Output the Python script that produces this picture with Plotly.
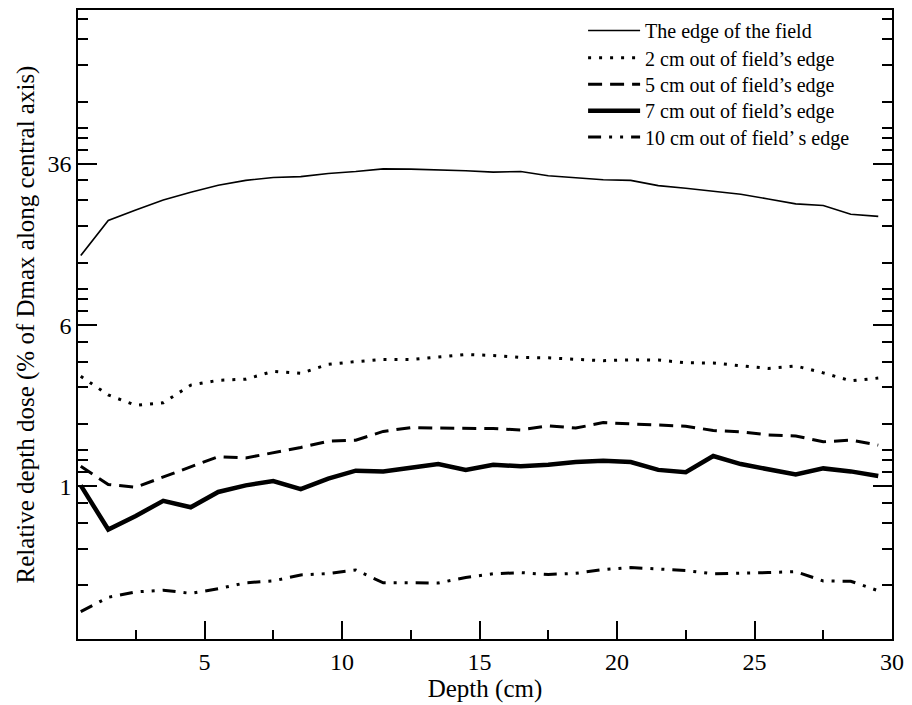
import plotly.graph_objects as go

depth = [0.5, 1.5, 2.5, 3.5, 4.5, 5.5, 6.5, 7.5, 8.5, 9.5, 10.5, 11.5, 12.5, 13.5, 14.5,
         15.5, 16.5, 17.5, 18.5, 19.5, 20.5, 21.5, 22.5, 23.5, 24.5, 25.5, 26.5, 27.5, 28.5, 29.5]

edge = [13.0, 19.2, 21.6, 24.1, 26.3, 28.4, 30.0, 31.0, 31.3, 32.4, 33.1, 34.1, 34.0, 33.8, 33.4,
        32.9, 33.1, 31.6, 31.0, 30.2, 30.0, 28.3, 27.5, 26.6, 25.7, 24.4, 23.1, 22.7, 20.6, 20.1]
out2 = [3.40, 2.76, 2.46, 2.53, 3.08, 3.25, 3.29, 3.59, 3.51, 3.88, 4.00, 4.10, 4.09, 4.21, 4.33,
        4.28, 4.19, 4.17, 4.12, 4.04, 4.08, 4.07, 3.95, 3.94, 3.82, 3.71, 3.81, 3.53, 3.23, 3.33]
out5 = [1.25, 1.02, 0.99, 1.11, 1.25, 1.39, 1.37, 1.45, 1.54, 1.65, 1.67, 1.84, 1.92, 1.91, 1.90,
        1.90, 1.87, 1.96, 1.91, 2.03, 2.00, 1.98, 1.95, 1.86, 1.83, 1.77, 1.75, 1.64, 1.67, 1.58]
out7 = [1.01, 0.618, 0.719, 0.851, 0.792, 0.939, 1.01, 1.06, 0.968, 1.09, 1.19, 1.18, 1.23, 1.28, 1.20,
        1.27, 1.25, 1.27, 1.31, 1.33, 1.31, 1.20, 1.17, 1.40, 1.28, 1.21, 1.14, 1.22, 1.18, 1.12]
out10 = [0.248, 0.291, 0.309, 0.315, 0.304, 0.320, 0.342, 0.349, 0.373, 0.379, 0.394, 0.342, 0.342, 0.341, 0.363,
         0.378, 0.383, 0.375, 0.380, 0.396, 0.405, 0.398, 0.392, 0.378, 0.379, 0.383, 0.387, 0.349, 0.348, 0.313]

names = ["The edge of the field",
         "2 cm out of field\u2019s edge",
         "5 cm out of field\u2019s edge",
         "7 cm out of field\u2019s edge",
         "10 cm out of field\u2019 s edge"]

y_major = [1, 6, 36]
y_major_text = ["1", "6", "36"]
y_minor = [2/6, 3/6, 4/6, 5/6, 7/6, 8/6, 9/6, 2, 3, 4, 5, 7, 8, 9,
           12, 18, 24, 30, 42, 48, 54, 72, 108, 144, 180]
x_major = [5, 10, 15, 20, 25, 30]

series = [edge, out2, out5, out7, out10]
styles = [dict(width=1.6, dash="solid"),
          dict(width=3, dash="3px,8px"),
          dict(width=3, dash="14px,8px"),
          dict(width=4.5, dash="solid"),
          dict(width=3, dash="13px,8px,3px,8px,3px,8px")]

font_family = "Liberation Serif, Times New Roman, serif"
legend_ids = ["legend", "legend2", "legend3", "legend4", "legend5"]
legend_row_y = [0.9675, 0.924, 0.882, 0.840, 0.798]

fig = go.Figure()
for vals, nm, st, lg in zip(series, names, styles, legend_ids):
    fig.add_trace(go.Scatter(x=depth, y=vals, mode="lines", name=nm,
                             legend=lg,
                             line=dict(color="black", **st)))

legend_common = dict(x=0.6205, xanchor="left", yanchor="middle",
                     bgcolor="rgba(255,255,255,0)", borderwidth=0,
                     font=dict(size=20, family=font_family), itemwidth=52)

fig.update_layout(
    width=912, height=705,
    margin=dict(l=78, r=14, t=8, b=61),
    paper_bgcolor="white", plot_bgcolor="white",
    font=dict(family=font_family, color="black", size=24),
    showlegend=True,
    xaxis=dict(range=[0.4, 30], showgrid=False, zeroline=False,
               showline=True, linecolor="black", linewidth=1.5, mirror=True,
               ticks="inside", ticklen=18, tickwidth=1.5, tickcolor="black",
               tickmode="array", tickvals=x_major,
               ticktext=[str(v) for v in x_major],
               tickfont=dict(size=24),
               minor=dict(tickmode="linear", tick0=0, dtick=2.5, ticks="inside",
                          ticklen=9, tickwidth=1.5, tickcolor="black", showgrid=False),
               title=dict(text="Depth (cm)", font=dict(size=25), standoff=5)),
    yaxis=dict(type="log", range=[-0.7375, 2.300], showgrid=False, zeroline=False,
               showline=True, linecolor="black", linewidth=1.5, mirror="ticks",
               ticks="inside", ticklen=19, tickwidth=1.5, tickcolor="black",
               tickmode="array", tickvals=y_major, ticktext=y_major_text,
               tickfont=dict(size=24),
               minor=dict(tickmode="array", tickvals=y_minor, ticks="inside",
                          ticklen=10, tickwidth=1.5, tickcolor="black", showgrid=False),
               title=dict(text="Relative depth dose (% of Dmax along central axis)",
                          font=dict(size=25), standoff=6)),
)
for lg, yv in zip(legend_ids, legend_row_y):
    fig.update_layout({lg: dict(y=yv, **legend_common)})

fig.write_html("out.html")
